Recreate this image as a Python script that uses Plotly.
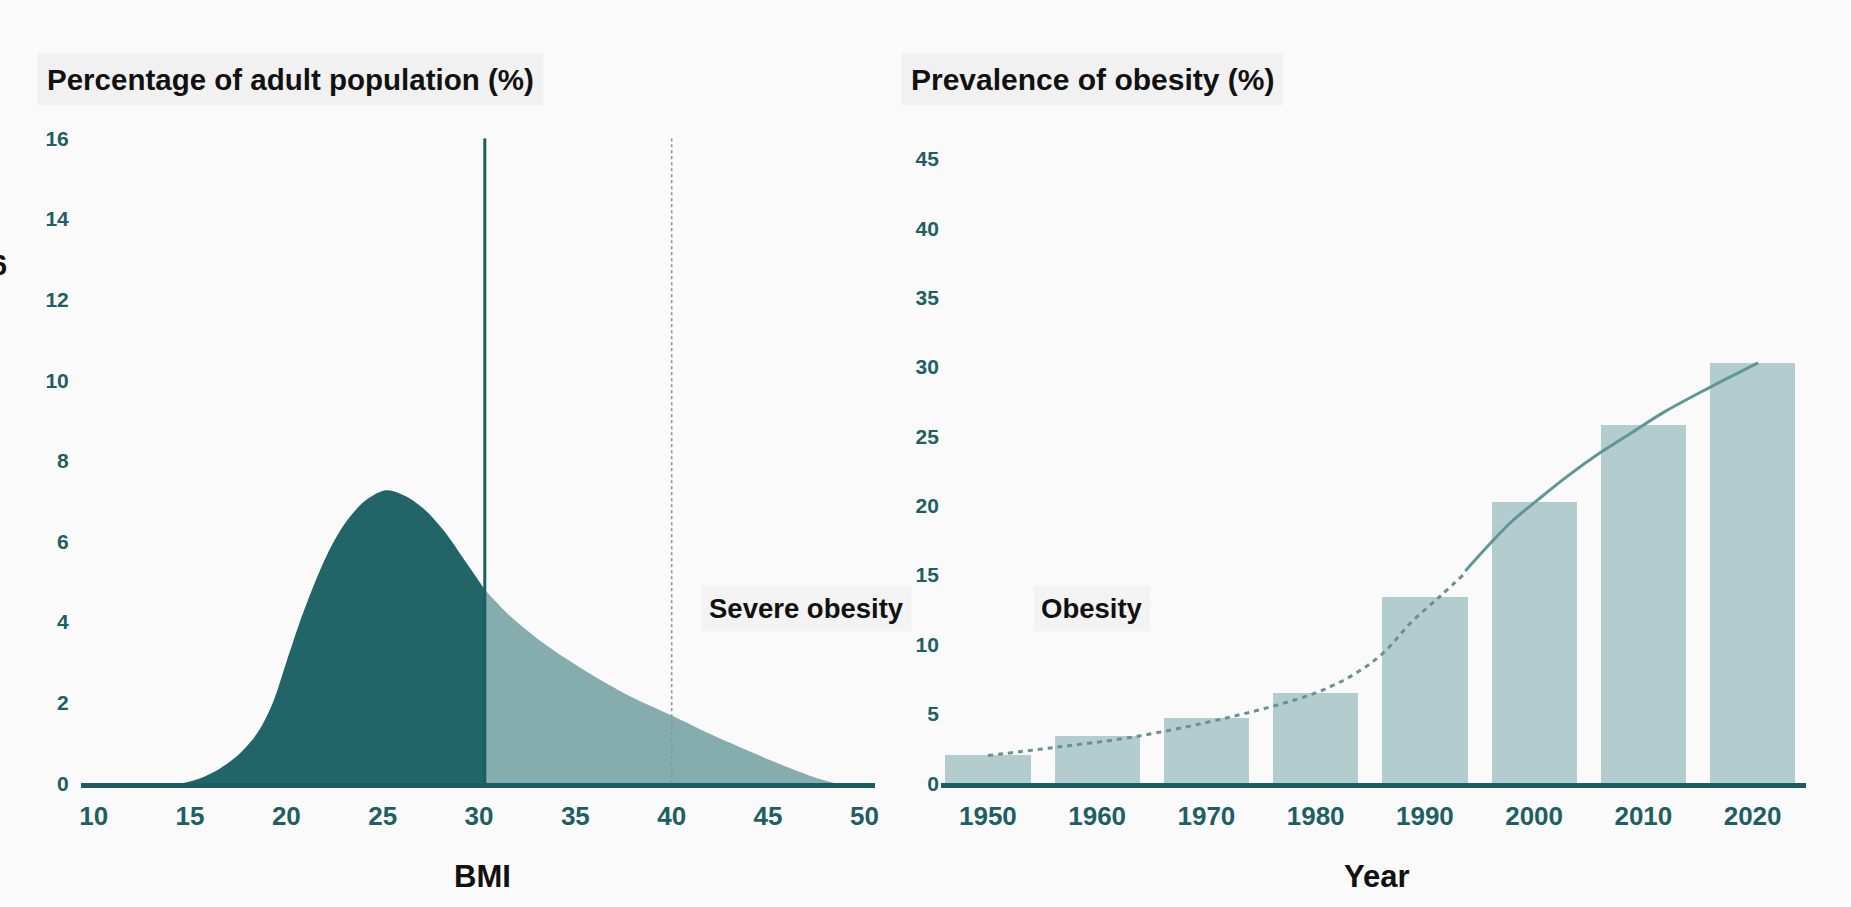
import plotly.graph_objects as go

# ---------------- data ----------------
# Left panel: BMI distribution of the adult population
bmi = [14.6, 15.5, 16.5, 17.5, 18.5, 19.3, 20.0, 20.7, 21.5, 22.3, 23.2, 24.2, 25.2, 26.2, 27.2,
       28.2, 29.3, 30.3, 31.5, 33.0, 34.5, 36.0, 38.0, 40.0, 42.0, 44.0, 46.0, 47.5, 48.5]
pct = [0.0, 0.12, 0.35, 0.7, 1.25, 2.0, 3.0, 4.0, 5.0, 5.85, 6.55, 7.05, 7.27, 7.12, 6.78,
       6.25, 5.5, 4.8, 4.2, 3.6, 3.1, 2.65, 2.12, 1.68, 1.22, 0.8, 0.4, 0.13, 0.0]
obesity_cut = 30.3
severe_cut = 40.0
bmi_ticks = [10, 15, 20, 25, 30, 35, 40, 45, 50]
pct_ticks = [0, 2, 4, 6, 8, 10, 12, 14, 16]

# Right panel: prevalence of obesity by decade
years = [1950, 1960, 1970, 1980, 1990, 2000, 2010, 2020]
prevalence = [2.0, 3.4, 4.7, 6.5, 13.4, 20.3, 25.8, 30.3]
trend_dash_years = [1950, 1956.0, 1963.5, 1971.9, 1977.2, 1980.4, 1983.5, 1986.2, 1988.7, 1991.4, 1993.7]
trend_dash_vals = [2.0, 2.57, 3.36, 4.72, 5.8, 6.64, 7.84, 9.4, 11.56, 13.48, 15.16]
trend_solid_years = [1993.7, 1996.0, 1998.0, 2000.3, 2003.0, 2006.0, 2009.0, 2012.0, 2016.0, 2020.5]
trend_solid_vals = [15.3, 17.3, 18.9, 20.4, 22.1, 23.8, 25.3, 26.8, 28.5, 30.3]
prev_ticks = [0, 5, 10, 15, 20, 25, 30, 35, 40, 45]

# ---------------- styling ----------------
DARK = "#216569"
LIGHT = "#86adad"
BAR = "#b3cdcf"
AXIS = "#1b5d61"
TICK = "#1e5f63"
FONT = "Liberation Sans, Arial, sans-serif"
BG = "#fafafa"

dark_x = [b for b in bmi if b <= obesity_cut]
dark_y = [p for b, p in zip(bmi, pct) if b <= obesity_cut]
light_x = [b for b in bmi if b >= obesity_cut]
light_y = [p for b, p in zip(bmi, pct) if b >= obesity_cut]

fig = go.Figure()

fig.add_trace(go.Scatter(x=dark_x, y=dark_y, mode="lines", fill="tozeroy",
                         line=dict(color=DARK, width=0, shape="spline", smoothing=0.9),
                         fillcolor=DARK, xaxis="x", yaxis="y", hoverinfo="skip"))
fig.add_trace(go.Scatter(x=light_x, y=light_y, mode="lines", fill="tozeroy",
                         line=dict(color=LIGHT, width=0, shape="spline", smoothing=0.9),
                         fillcolor=LIGHT, xaxis="x", yaxis="y", hoverinfo="skip"))
fig.add_trace(go.Scatter(x=[severe_cut, severe_cut], y=[pct_ticks[0], pct_ticks[-1]], mode="lines",
                         line=dict(color="#7a9c9e", width=1.6, dash="dot"),
                         xaxis="x", yaxis="y", hoverinfo="skip"))
fig.add_trace(go.Scatter(x=[obesity_cut, obesity_cut], y=[pct_ticks[0], pct_ticks[-1]], mode="lines",
                         line=dict(color="#1d5c62", width=3),
                         xaxis="x", yaxis="y", hoverinfo="skip"))

fig.add_trace(go.Bar(x=years, y=prevalence, width=7.8, marker=dict(color=BAR, line=dict(width=0)),
                     xaxis="x2", yaxis="y2", hoverinfo="skip"))
fig.add_trace(go.Scatter(x=trend_dash_years, y=trend_dash_vals, mode="lines",
                         line=dict(color="#6a9092", width=3, dash="5px,5px", shape="spline"),
                         xaxis="x2", yaxis="y2", hoverinfo="skip"))
fig.add_trace(go.Scatter(x=trend_solid_years, y=trend_solid_vals, mode="lines",
                         line=dict(color="#5e9799", width=3, shape="spline"),
                         xaxis="x2", yaxis="y2", hoverinfo="skip"))

W, H = 1851, 907
def fx(px):
    return px / W
def fy(py):
    # target pixel (in the 1851x907 picture) -> paper fraction, allowing for the
    # slight vertical scaling observed in the photographed page
    spec = (py - 11.45) / 0.9763
    return 1 - spec / H

tickfont_y = dict(family=FONT, size=21, color=TICK, weight="bold")
tickfont_x = dict(family=FONT, size=26, color=TICK, weight="bold")

fig.update_layout(
    width=W, height=H,
    margin=dict(l=0, r=0, t=0, b=0),
    paper_bgcolor=BG, plot_bgcolor=BG,
    showlegend=False,
    bargap=0,
    xaxis=dict(domain=[fx(79), fx(876)], range=[9.33, 50.56], tickvals=bmi_ticks,
               showgrid=False, zeroline=False, showline=True, linecolor=AXIS, linewidth=5,
               ticks="", ticklabelstandoff=6, tickfont=tickfont_x, anchor="y"),
    yaxis=dict(domain=[fy(784), fy(138)], range=[0, 16], tickvals=pct_ticks,
               showgrid=False, zeroline=False, showline=False, ticks="",
               ticklabelstandoff=11, tickfont=tickfont_y, anchor="x"),
    xaxis2=dict(domain=[fx(942), fx(1810)], range=[1945.7, 2024.9], tickvals=years,
                showgrid=False, zeroline=False, showline=True, linecolor=AXIS, linewidth=5,
                ticks="", ticklabelstandoff=6, tickfont=tickfont_x, anchor="y2"),
    yaxis2=dict(domain=[fy(784), fy(144.7)], range=[0, 46], tickvals=prev_ticks,
                showgrid=False, zeroline=False, showline=False, ticks="",
                ticklabelstandoff=1, tickfont=tickfont_y, anchor="x2"),
)

def label(text, x, y, size, bg=None, xanchor="left", pad=8):
    fig.add_annotation(text=text, x=fx(x), y=fy(y), xref="paper", yref="paper",
                       xanchor=xanchor, yanchor="middle", showarrow=False,
                       font=dict(family=FONT, size=size, color="#111111", weight="bold"),
                       bgcolor=bg, borderpad=pad)

label("Percentage of adult population (%)", 35, 79, 29.5, bg="#f1f1f1", pad=9)
label("Prevalence of obesity (%)", 902, 79, 30, bg="#f1f1f1", pad=9)
label("Severe obesity", 701, 609, 27.5, bg="#f3f3f3", pad=7)
label("Obesity", 1034, 609, 27.5, bg="#f3f3f3", pad=7)
label("BMI", 482, 877, 31, xanchor="center")
label("Year", 1379, 877, 31, xanchor="center")
label("6", -3, 265, 29, xanchor="center", pad=0)

fig.write_html("out.html", config={"displayModeBar": False},
               post_script="document.body.style.margin='0px';")
